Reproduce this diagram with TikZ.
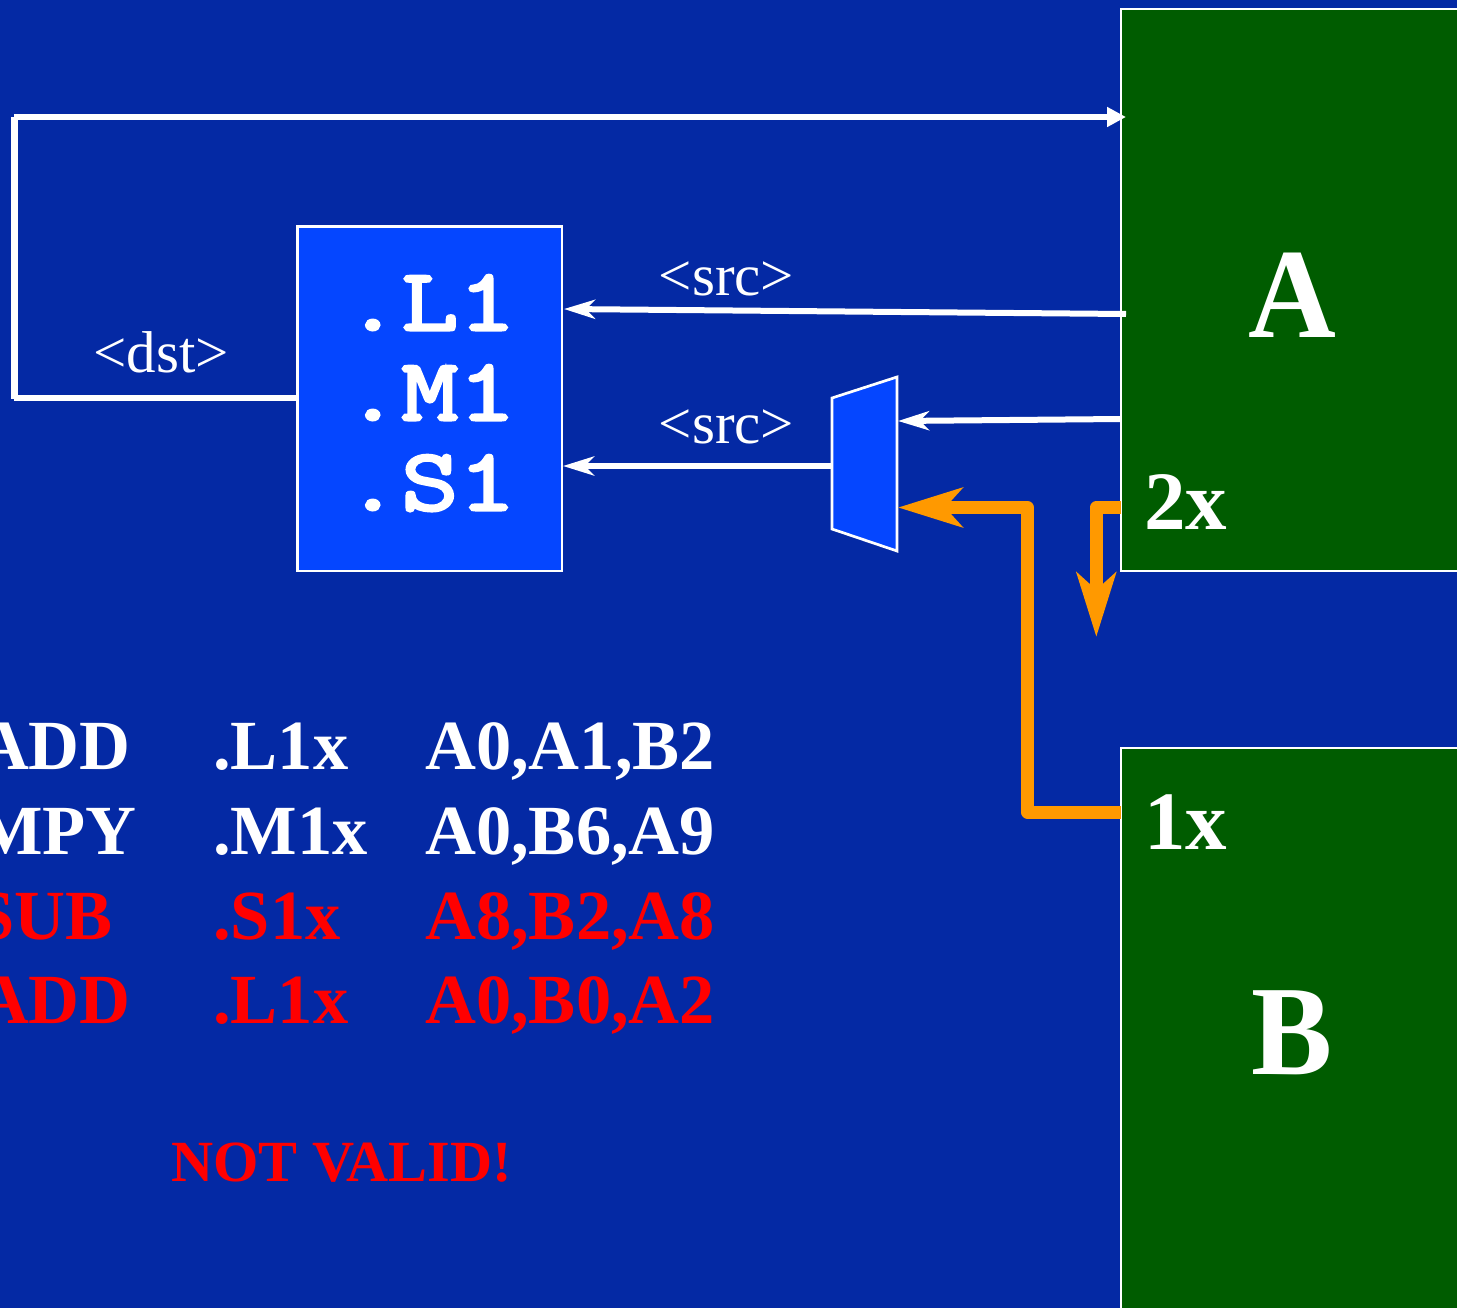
\documentclass[tikz,border=0pt]{standalone}
\usepackage{fontspec}
\setmainfont{Liberation Serif}
\newfontfamily\fufont[FakeBold=3.4,FakeStretch=1.26]{Latin Modern Mono}
\newfontfamily\bigfont[FakeStretch=0.95]{Liberation Serif}
\usetikzlibrary{arrows.meta}
\definecolor{bgblue}{HTML}{0429A4}
\definecolor{boxblue}{HTML}{0546FF}
\definecolor{boxgreen}{HTML}{005C00}
\definecolor{wireorange}{HTML}{FF9900}
\definecolor{txtred}{HTML}{FF0000}
\tikzset{
  x=1pt,y=-1pt,
  regbox/.style={draw=white,line width=2.7pt,fill=boxgreen},
  fubox/.style={draw=white,line width=2.7pt,fill=boxblue},
  wirew/.style={draw=white,line width=6.5pt},
  thin arrow/.style={draw=white,line width=6pt,-{Stealth[length=31pt,width=19pt,inset=9pt]}},
  solid arrow/.style={draw=white,line width=6.5pt,-{Stealth[length=19pt,width=19pt,inset=0pt]}},
  wireo/.style={draw=wireorange,line width=13pt,line join=round,-{Stealth[length=64pt,width=39pt,inset=17pt]}},
  lbl/.style={text=white,font=\fontsize{59}{59}\selectfont,anchor=base,inner sep=0pt},
  instr/.style={font=\fontsize{70.5}{70}\selectfont\bfseries,anchor=base west,inner sep=0pt},
  fu/.style={text=white,font=\fontsize{88}{88}\selectfont\fufont,anchor=base west,inner sep=0pt},
  big/.style={text=white,font=\fontsize{128}{128}\selectfont\bigfont\bfseries,anchor=base,inner sep=0pt},
  port/.style={text=white,font=\fontsize{83}{83}\selectfont\bfseries,anchor=base west,inner sep=0pt},
}
\begin{document}
\begin{tikzpicture}
\useasboundingbox (0,0) rectangle (1457,1308);
\clip (0,0) rectangle (1457,1308);
\fill[bgblue] (0,0) rectangle (1457,1308);
% register files
\path[regbox] (1121,9) rectangle (1470,571);
\path[regbox] (1121,748) rectangle (1470,1330);
\coordinate (aedge1) at (1126,117);
\coordinate (aedge2) at (1126,314);
\coordinate (aedge3) at (1121,419);
\coordinate (aedge4) at (1121,507.5);
\coordinate (bedge) at (1121,812);
% FU box
\path[fubox] (297.5,226.5) rectangle (562,571);
\coordinate (fusrc1) at (564,309);
\coordinate (fusrc2) at (563,466);
\coordinate (fudst) at (298,398);
% mux
\path[fubox] (832,398) -- (897,377) -- (897,551) -- (832,529) -- cycle;
\coordinate (muxin1) at (898,421);
\coordinate (muxin2) at (898,507.5);
\coordinate (muxout) at (832,466);
% wires
\draw[wirew] (fudst) -- (14,398);
\draw[draw=white,line width=7pt] (14.5,399) -- (14.5,117);
\draw[solid arrow] (14,117) -- (aedge1);
\draw[thin arrow] (aedge2) -- (fusrc1);
\draw[thin arrow] (aedge3) -- (muxin1);
\draw[thin arrow] (muxout) -- (fusrc2);
\draw[wireo] (bedge) -- (1027.5,812) -- (1027.5,507.5) -- (muxin2);
\draw[wireo] (aedge4) -- (1096.3,507.5) -- (1096.3,637);
% labels
\node[lbl] (lsrc1) at (726.5,295) {<src>};
\node[lbl] (lsrc2) at (726.5,443) {<src>};
\node[lbl] (ldst) at (161,372) {<dst>};
\node[fu] (fl) at (344,330) {.L1};
\node[fu] (fm) at (344,420) {.M1};
\node[fu] (fs) at (344,510) {.S1};
\node[big] (na) at (1292,337) {A};
\node[big] (nb) at (1292,1074) {B};
\node[port] (p2) at (1144,529) {2x};
\node[port] (p1) at (1144,849) {1x};
% instructions
\node[instr,text=white,anchor=base east] (i1a) at (131,769.5) {ADD};
\node[instr,text=white] (i1b) at (213,769.5) {.L1x};
\node[instr,text=white] (i1c) at (425,769.5) {A0,A1,B2};
\node[instr,text=white,anchor=base east] (i2a) at (137,854.5) {MPY};
\node[instr,text=white] (i2b) at (213,854.5) {.M1x};
\node[instr,text=white] (i2c) at (425,854.5) {A0,B6,A9};
\node[instr,text=txtred,anchor=base east] (i3a) at (113,939.5) {SUB};
\node[instr,text=txtred] (i3b) at (213,939.5) {.S1x};
\node[instr,text=txtred] (i3c) at (425,939.5) {A8,B2,A8};
\node[instr,text=txtred,anchor=base east] (i4a) at (131,1023.5) {ADD};
\node[instr,text=txtred] (i4b) at (213,1023.5) {.L1x};
\node[instr,text=txtred] (i4c) at (425,1023.5) {A0,B0,A2};
\node[text=txtred,font=\fontsize{58.3}{58}\selectfont\bfseries,anchor=base west,inner sep=0pt] (nv) at (171,1181) {NOT VALID!};
\end{tikzpicture}
\end{document}
